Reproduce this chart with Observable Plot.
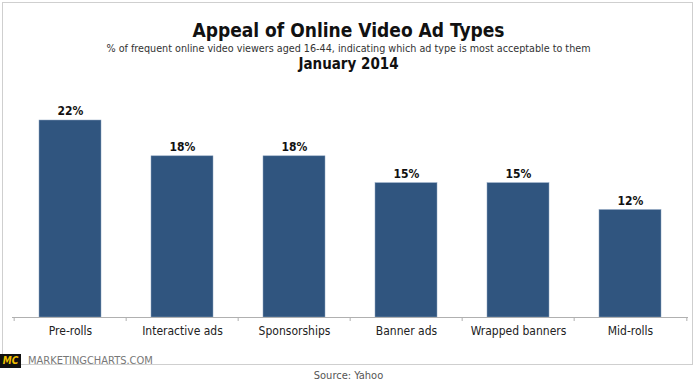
<!DOCTYPE html>
<html>
<head>
<meta charset="utf-8">
<script src="https://cdn.jsdelivr.net/npm/d3@7"></script>
<script src="https://cdn.jsdelivr.net/npm/@observablehq/plot@0.6"></script>
<style>
  html, body { margin: 0; padding: 0; background: #fff; }
  #wrap { position: relative; width: 697px; height: 383px; overflow: hidden; font-family: "DejaVu Sans Condensed", "DejaVu Sans", sans-serif; }
  #frame { position: absolute; left: 2px; top: 2px; width: 691px; height: 363px; border: 1px solid #cfcfcf; box-sizing: border-box; }
  .t { position: absolute; left: 0; width: 697px; text-align: center; white-space: nowrap; }
  #title { top: 19px; font-size: 19px; font-weight: bold; color: #111; }
  #sub { top: 42px; font-size: 10.7px; color: #333; }
  #date { top: 55px; font-size: 15px; font-weight: bold; color: #111; }
  #chart { position: absolute; left: 0; top: 85px; }
  #logo { position: absolute; left: 0; top: 354px; width: 21px; height: 14px; background: #111; color: #f2c200; font-size: 10px; font-weight: bold; font-style: italic; text-align: center; line-height: 14px; }
  #site { position: absolute; left: 28px; top: 354px; font-size: 11px; color: #777; line-height: 14px; }
  #source { top: 369px; font-size: 11px; color: #555; }
</style>
</head>
<body>
<div id="wrap">
  <div id="frame"></div>
  <div class="t" id="title">Appeal of Online Video Ad Types</div>
  <div class="t" id="sub">% of frequent online video viewers aged 16-44, indicating which ad type is most acceptable to them</div>
  <div class="t" id="date">January 2014</div>
  <div id="chart"></div>
  <div id="logo">MC</div>
  <div id="site">MARKETINGCHARTS.COM</div>
  <div class="t" id="source">Source: Yahoo</div>
</div>
<script>
const categories = ["Pre-rolls", "Interactive ads", "Sponsorships", "Banner ads", "Wrapped banners", "Mid-rolls"];
const values = [22, 18, 18, 15, 15, 12];

const data = categories.map((c, i) => ({category: c, value: values[i]}));

const W = 697, H = 260, mL = 12, mR = 9, mT = 35, mB = 28;
const step = (W - mL - mR) / categories.length;

const chart = Plot.plot({
  width: W,
  height: H,
  marginLeft: mL,
  marginRight: mR,
  marginTop: mT,
  marginBottom: mB,
  style: {fontFamily: '"DejaVu Sans Condensed", "DejaVu Sans", sans-serif', background: "transparent"},
  x: {domain: categories, paddingInner: 0.45, paddingOuter: 0.225, align: 0.5, label: null},
  y: {domain: [0, 22], axis: null},
  marks: [
    Plot.barY(data, {x: "category", y: "value", fill: "#30557f", stroke: "#8aa2bf", strokeWidth: 0.5}),
    Plot.ruleY([0], {stroke: "#b0b0b0", strokeWidth: 1}),
    Plot.ruleX(categories, {x: d => d, dx: -step / 2, y1: 0, y2: -0.45, stroke: "#b0b0b0"}),
    Plot.ruleX(categories.slice(-1), {x: d => d, dx: step / 2, y1: 0, y2: -0.45, stroke: "#b0b0b0"}),
    Plot.text(data, {x: "category", y: "value", text: d => d.value + "%", dy: -9, fontSize: 12, fontWeight: "bold", fill: "#111"}),
    Plot.axisX({tickSize: 0, tickPadding: 9, fontSize: 12, color: "#222", label: null})
  ]
});
document.getElementById("chart").appendChild(chart);
</script>
</body>
</html>
